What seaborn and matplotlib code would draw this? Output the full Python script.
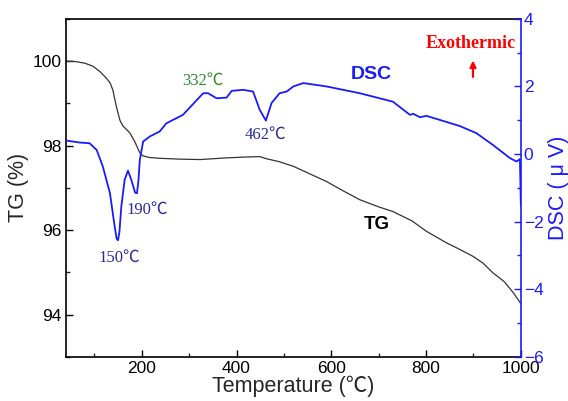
import numpy as np
import pandas as pd
import matplotlib
matplotlib.use("Agg")
import matplotlib.pyplot as plt
from matplotlib.ticker import MultipleLocator
import seaborn as sns

# ---- data ----
tg_temp = [40, 60, 80, 97, 112, 125, 133, 139, 147, 154, 160, 168, 175, 185, 196, 202,
           215, 238, 280, 323, 379, 420, 449, 463, 490, 520, 555, 590, 625, 660, 700,
           730, 770, 801, 843, 870, 899, 920, 941, 965, 984, 1000]
tg_val = [100.0, 99.99, 99.95, 99.88, 99.75, 99.6, 99.49, 99.32, 98.9, 98.6, 98.47,
          98.38, 98.3, 98.1, 97.83, 97.76, 97.72, 97.70, 97.68, 97.67, 97.71, 97.73,
          97.74, 97.69, 97.62, 97.51, 97.33, 97.15, 96.93, 96.72, 96.55, 96.44, 96.22,
          95.97, 95.70, 95.55, 95.38, 95.22, 94.99, 94.78, 94.52, 94.26]

dsc_temp = [40, 70, 90, 105, 118, 133, 143, 147, 150, 153, 157, 164, 171, 178, 186,
            190, 193, 196, 203, 217, 238, 252, 287, 323, 330, 340, 358, 379, 390, 414,
            435, 449, 462, 474, 491, 506, 520, 541, 590, 660, 730, 766, 773, 787, 801,
            871, 906, 941, 977, 991, 998, 1000]
dsc_val = [0.40, 0.34, 0.32, 0.12, -0.37, -1.16, -2.15, -2.5, -2.55, -2.3, -1.55,
           -0.76, -0.49, -0.76, -1.14, -1.16, -0.8, -0.17, 0.37, 0.52, 0.67, 0.91,
           1.16, 1.70, 1.80, 1.80, 1.65, 1.67, 1.87, 1.90, 1.85, 1.31, 0.99, 1.51,
           1.80, 1.85, 2.00, 2.10, 2.00, 1.80, 1.55, 1.16, 1.19, 1.09, 1.13, 0.83,
           0.62, 0.27, -0.12, -0.22, -0.15, -1.5]

x_ticks = [200, 400, 600, 800, 1000]
tg_ticks = [94, 96, 98, 100]
dsc_ticks = [-6, -4, -2, 0, 2, 4]

tg_df = pd.DataFrame({"Temperature": tg_temp, "TG": tg_val})
dsc_df = pd.DataFrame({"Temperature": dsc_temp, "DSC": dsc_val})

sns.set_theme(style="ticks")
plt.rcParams["font.family"] = ["Liberation Sans", "DejaVu Sans"]
plt.rcParams["xtick.direction"] = "in"
plt.rcParams["ytick.direction"] = "in"

BLUE = "#1a1aff"
fig = plt.figure(figsize=(5.68, 4.01), dpi=100)
ax = fig.add_axes([0.116, 0.110, 0.801, 0.843])
sns.lineplot(data=tg_df, x="Temperature", y="TG", ax=ax, color="#333333",
             linewidth=0.9, estimator=None, sort=False)
ax2 = ax.twinx()
sns.lineplot(data=dsc_df, x="Temperature", y="DSC", ax=ax2, color=BLUE,
             linewidth=1.3, estimator=None, sort=False)

ax.set_xlim(40, 1000)
ax.set_ylim(93, 101)
ax2.set_ylim(-6, 4)
ax.set_xticks(x_ticks)
ax.set_yticks(tg_ticks)
ax2.set_yticks(dsc_ticks)
ax.xaxis.set_minor_locator(MultipleLocator(100))
ax.yaxis.set_minor_locator(MultipleLocator(1))
ax2.yaxis.set_minor_locator(MultipleLocator(1))

tickfont = 12.5
ax.tick_params(axis="both", which="major", labelsize=tickfont, length=5, width=1,
               colors="black", top=False, pad=3)
ax.tick_params(axis="both", which="minor", length=3, width=1, top=False)
ax2.tick_params(axis="y", which="major", labelsize=tickfont, length=5, width=1,
                colors=BLUE, pad=2)
ax2.tick_params(axis="y", which="minor", length=3, width=1, colors=BLUE)

for sp in ax.spines.values():
    sp.set_linewidth(1.2)
    sp.set_color("black")
for name, sp in ax2.spines.items():
    sp.set_linewidth(1.2)
ax2.spines["right"].set_color(BLUE)
ax2.spines["left"].set_visible(False)
ax2.spines["top"].set_visible(False)
ax2.spines["bottom"].set_visible(False)
ax.spines["right"].set_visible(False)

ax.set_xlabel("Temperature (\u2103)", fontsize=15.5,
              family=["Liberation Sans", "Noto Sans CJK SC"], labelpad=0)
ax.set_ylabel("TG (%)", fontsize=15.5, labelpad=3)
ax2.set_ylabel("DSC ( \u03bc V)", fontsize=15.5, color=BLUE, labelpad=3,
               family=["Liberation Sans", "Noto Sans CJK SC"])

serif = ["Liberation Serif", "Noto Sans CJK SC"]
NAVY = "#2b2b9a"
ax2.text(152, -3.07, "150\u2103", color=NAVY, fontsize=12, family=serif,
         ha="center", va="center")
ax2.text(212, -1.65, "190\u2103", color=NAVY, fontsize=12, family=serif,
         ha="center", va="center")
ax2.text(329, 2.17, "332\u2103", color="#2e8b2e", fontsize=12, family=serif,
         ha="center", va="center")
ax2.text(462, 0.57, "462\u2103", color=NAVY, fontsize=12, family=serif,
         ha="center", va="center")
ax2.text(685, 2.35, "DSC", color=BLUE, fontsize=14, fontweight="bold",
         ha="center", va="center")
ax.text(696, 96.13, "TG", color="black", fontsize=13.5, fontweight="bold",
        ha="center", va="center")
ax2.text(894, 3.28, "Exothermic", color="red", fontsize=13, fontweight="bold",
         family=["Liberation Serif"], ha="center", va="center")
ax2.annotate("", xy=(899, 2.85), xytext=(899, 2.2),
             arrowprops=dict(arrowstyle="-|>", color="red", lw=1.6,
                             mutation_scale=9))

fig.savefig("out.png", dpi=100)
